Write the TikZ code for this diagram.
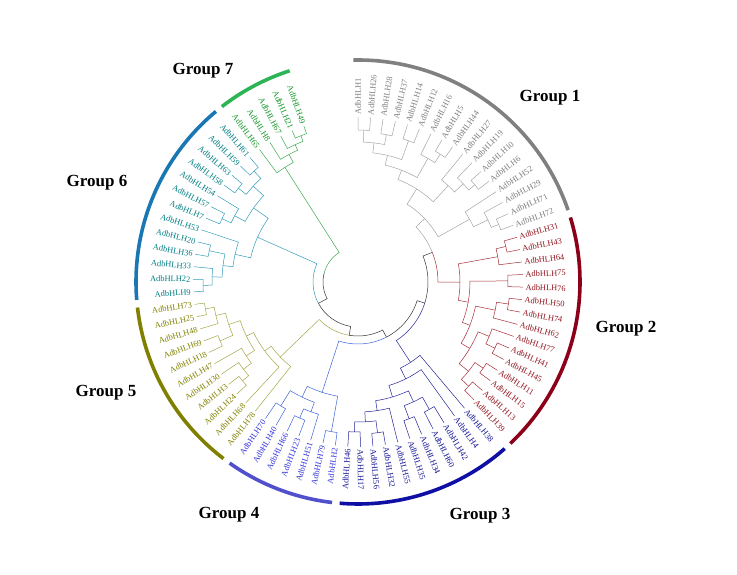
\documentclass[tikz,border=0pt]{standalone}
\usepackage{fontspec}
\setmainfont{Liberation Serif}
\definecolor{g1line}{RGB}{165,165,165}\definecolor{g1text}{RGB}{125,125,125}\definecolor{g1arc}{RGB}{128,128,128}
\definecolor{g2line}{RGB}{165,45,55}\definecolor{g2text}{RGB}{145,20,30}\definecolor{g2arc}{RGB}{140,0,25}
\definecolor{g3line}{RGB}{35,35,150}\definecolor{g3text}{RGB}{20,20,150}\definecolor{g3arc}{RGB}{15,15,165}
\definecolor{g4line}{RGB}{60,100,215}\definecolor{g4text}{RGB}{50,50,220}\definecolor{g4arc}{RGB}{80,80,205}
\definecolor{g5line}{RGB}{165,165,70}\definecolor{g5text}{RGB}{128,128,0}\definecolor{g5arc}{RGB}{128,128,0}
\definecolor{g6line}{RGB}{50,155,185}\definecolor{g6text}{RGB}{0,125,130}\definecolor{g6arc}{RGB}{25,120,180}
\definecolor{g7line}{RGB}{60,170,80}\definecolor{g7text}{RGB}{20,150,40}\definecolor{g7arc}{RGB}{45,180,85}
\definecolor{bb}{RGB}{50,50,50}
\newcommand\stepang{4.37}
\newcommand\tipr{165}
\newcommand\labr{167}
\newcommand\leaf[4]{%
  \pgfmathsetmacro\angL{90-\stepang*#2}%
  \pgfmathsetmacro\angN{mod(\angL+450,360)-90}%
  \expandafter\xdef\csname P#1\endcsname{#2}%
  \expandafter\xdef\csname R#1\endcsname{\tipr}%
  \expandafter\xdef\csname C#1\endcsname{#3line}%
  \edef\colT{#3text}%
  \ifdim\angN pt>90pt
    \pgfmathsetmacro\angT{\angN-180}%
    \node[lab,text=\colT,rotate=\angT,anchor=east] (#1) at (\angL:\labr) {AdbHLH#4};
  \else
    \node[lab,text=\colT,rotate=\angN,anchor=west] (#1) at (\angL:\labr) {AdbHLH#4};
  \fi}
\newcommand\clade[5]{%
  \expandafter\let\expandafter\posA\csname P#4\endcsname
  \expandafter\let\expandafter\posB\csname P#5\endcsname
  \expandafter\let\expandafter\radA\csname R#4\endcsname
  \expandafter\let\expandafter\radB\csname R#5\endcsname
  \expandafter\let\expandafter\colA\csname C#4\endcsname
  \expandafter\let\expandafter\colB\csname C#5\endcsname
  \pgfmathsetmacro\posM{(\posA+\posB)/2}%
  \pgfmathsetmacro\angA{90-\stepang*\posA}%
  \pgfmathsetmacro\angB{90-\stepang*\posB}%
  \pgfmathsetmacro\angM{90-\stepang*\posM}%
  \draw[branch,color=\colA] (\angA:\radA) -- (\angA:#2) arc[start angle=\angA,end angle=\angM,radius=#2];
  \draw[branch,color=\colB] (\angB:\radB) -- (\angB:#2) arc[start angle=\angB,end angle=\angM,radius=#2];
  \expandafter\xdef\csname P#1\endcsname{\posM}%
  \expandafter\xdef\csname R#1\endcsname{#2}%
  \expandafter\xdef\csname C#1\endcsname{#3}}
\newcommand\garc[3]{%
  \pgfmathsetmacro\angA{90-\stepang*#2+1.2}%
  \pgfmathsetmacro\angB{90-\stepang*#3-1.2}%
  \draw[grp,color=#1] (\angA:222) arc[start angle=\angA,end angle=\angB,radius=222];}
\begin{document}
\begin{tikzpicture}[x=1pt,y=1pt,
  lab/.style={font=\fontsize{8.4}{9}\selectfont,inner sep=0.5pt},
  branch/.style={line width=0.5pt},
  grp/.style={line width=3.6pt},
  glab/.style={font=\fontsize{17}{20}\selectfont\bfseries,inner sep=0pt}]
\useasboundingbox (0,0) rectangle (737,574);
\node[glab] (grp1) at (550,476) {Group 1};
\node[glab] (grp2) at (626,245) {Group 2};
\node[glab] (grp3) at (480,58) {Group 3};
\node[glab] (grp4) at (229,59) {Group 4};
\node[glab] (grp5) at (106,181) {Group 5};
\node[glab] (grp6) at (97,391) {Group 6};
\node[glab] (grp7) at (203,503) {Group 7};
\begin{scope}[shift={(358,292)}]
\foreach \g/\n [count=\i from 0] in {g1/1,g1/26,g1/28,g1/37,g1/14,g1/12,g1/16,g1/5,g1/44,g1/27,g1/19,g1/10,g1/6,g1/52,g1/29,g1/71,g1/72,
  g2/31,g2/43,g2/64,g2/75,g2/76,g2/50,g2/74,g2/62,g2/77,g2/41,g2/45,g2/11,g2/15,g2/13,g2/39,
  g3/38,g3/4,g3/42,g3/60,g3/34,g3/35,g3/55,g3/32,g3/56,g3/17,g3/46,
  g4/2,g4/79,g4/51,g4/23,g4/66,g4/40,g4/70,
  g5/78,g5/68,g5/24,g5/3,g5/30,g5/47,g5/18,g5/69,g5/48,g5/25,g5/73,
  g6/9,g6/22,g6/33,g6/36,g6/20,g6/53,g6/7,g6/57,g6/54,g6/58,g6/63,g6/59,g6/61,
  g7/65,g7/8,g7/67,g7/21,g7/49}
  \leaf{l\n}{\i}{\g}{\n};
\clade{c1a}{152}{g1line}{l1}{l26}
\clade{c1b}{150}{g1line}{l28}{l37}
\clade{c1c}{140}{g1line}{c1a}{c1b}
\clade{c1d}{150}{g1line}{l14}{l12}
\clade{c1e}{130}{g1line}{c1c}{c1d}
\clade{c1f}{152}{g1line}{l5}{l44}
\clade{c1g}{142}{g1line}{l16}{c1f}
\clade{c1h}{120}{g1line}{c1e}{c1g}
\clade{c1i}{152}{g1line}{l10}{l6}
\clade{c1j}{144}{g1line}{l19}{c1i}
\clade{c1k}{132}{g1line}{l27}{c1j}
\clade{c1l}{110}{g1line}{c1h}{c1k}
\clade{c1m}{152}{g1line}{l71}{l72}
\clade{c1n}{144}{g1line}{l29}{c1m}
\clade{c1o}{128}{g1line}{l52}{c1n}
\clade{one}{92}{g1line}{c1l}{c1o}
\clade{c2a}{152}{g2line}{l31}{l43}
\clade{c2b}{142}{g2line}{c2a}{l64}
\clade{c2c}{150}{g2line}{l75}{l76}
\clade{c2d}{152}{g2line}{l50}{l74}
\clade{c2e}{140}{g2line}{c2d}{l62}
\clade{c2f}{152}{g2line}{l41}{l45}
\clade{c2g}{142}{g2line}{l77}{c2f}
\clade{c2h}{152}{g2line}{l11}{l15}
\clade{c2i}{152}{g2line}{l13}{l39}
\clade{c2j}{142}{g2line}{c2h}{c2i}
\clade{c2k}{130}{g2line}{c2g}{c2j}
\clade{c2l}{120}{g2line}{c2e}{c2k}
\clade{c2m}{112}{g2line}{c2c}{c2l}
\clade{two}{102}{g2line}{c2b}{c2m}
\clade{c3a}{150}{g3line}{l17}{l46}
\clade{c3b}{152}{g3line}{l32}{l56}
\clade{c3c}{140}{g3line}{c3b}{c3a}
\clade{c3d}{130}{g3line}{l55}{c3c}
\clade{c3e}{146}{g3line}{l34}{l35}
\clade{c3f}{146}{g3line}{l42}{l60}
\clade{c3g}{132}{g3line}{c3f}{c3e}
\clade{c3h}{120}{g3line}{c3g}{c3d}
\clade{c3i}{108}{g3line}{l4}{c3h}
\clade{three}{96}{g3line}{l38}{c3i}
\clade{c4a}{152}{g4line}{l2}{l79}
\clade{c4b}{148}{g4line}{l23}{l66}
\clade{c4c}{138}{g4line}{l51}{c4b}
\clade{c4d}{146}{g4line}{l40}{l70}
\clade{c4e}{128}{g4line}{c4c}{c4d}
\clade{four}{116}{g4line}{c4a}{c4e}
\clade{c5a}{155}{g5line}{l25}{l73}
\clade{c5b}{146}{g5line}{l48}{c5a}
\clade{c5c}{150}{g5line}{l18}{l69}
\clade{c5d}{136}{g5line}{c5c}{c5b}
\clade{c5e}{152}{g5line}{l24}{l3}
\clade{c5f}{144}{g5line}{c5e}{l30}
\clade{c5g}{134}{g5line}{c5f}{l47}
\clade{c5h}{124}{g5line}{c5g}{c5d}
\clade{c5i}{116}{g5line}{l68}{c5h}
\clade{five}{108}{g5line}{l78}{c5i}
\clade{c6a}{155}{g6line}{l9}{l22}
\clade{c6b}{146}{g6line}{c6a}{l33}
\clade{c6c}{152}{g6line}{l36}{l20}
\clade{c6d}{136}{g6line}{c6b}{c6c}
\clade{c6e}{126}{g6line}{c6d}{l53}
\clade{c6f}{150}{g6line}{l7}{l57}
\clade{c6g}{140}{g6line}{c6f}{l54}
\clade{c6h}{152}{g6line}{l58}{l63}
\clade{c6i}{152}{g6line}{l59}{l61}
\clade{c6j}{142}{g6line}{c6h}{c6i}
\clade{c6k}{128}{g6line}{c6g}{c6j}
\clade{six}{110}{g6line}{c6e}{c6k}
\clade{c7a}{157}{g7line}{l21}{l49}
\clade{c7b}{151}{g7line}{l67}{c7a}
\clade{c7c}{145}{g7line}{l8}{c7b}
\clade{seven}{136}{g7line}{l65}{c7c}
\clade{nab}{80}{bb}{one}{two}
\clade{nabc}{70}{bb}{nab}{three}
\clade{nd}{62}{bb}{nabc}{four}
\clade{nc}{54}{bb}{nd}{five}
\clade{nb}{45}{bb}{nc}{six}
\clade{na}{35}{bb}{nb}{seven}
\garc{g1arc}{0}{16}
\garc{g2arc}{17}{31}
\garc{g3arc}{32}{42}
\garc{g4arc}{43}{49}
\garc{g5arc}{50}{60}
\garc{g6arc}{61}{73}
\garc{g7arc}{74}{78}
\end{scope}
\end{tikzpicture}
\end{document}
